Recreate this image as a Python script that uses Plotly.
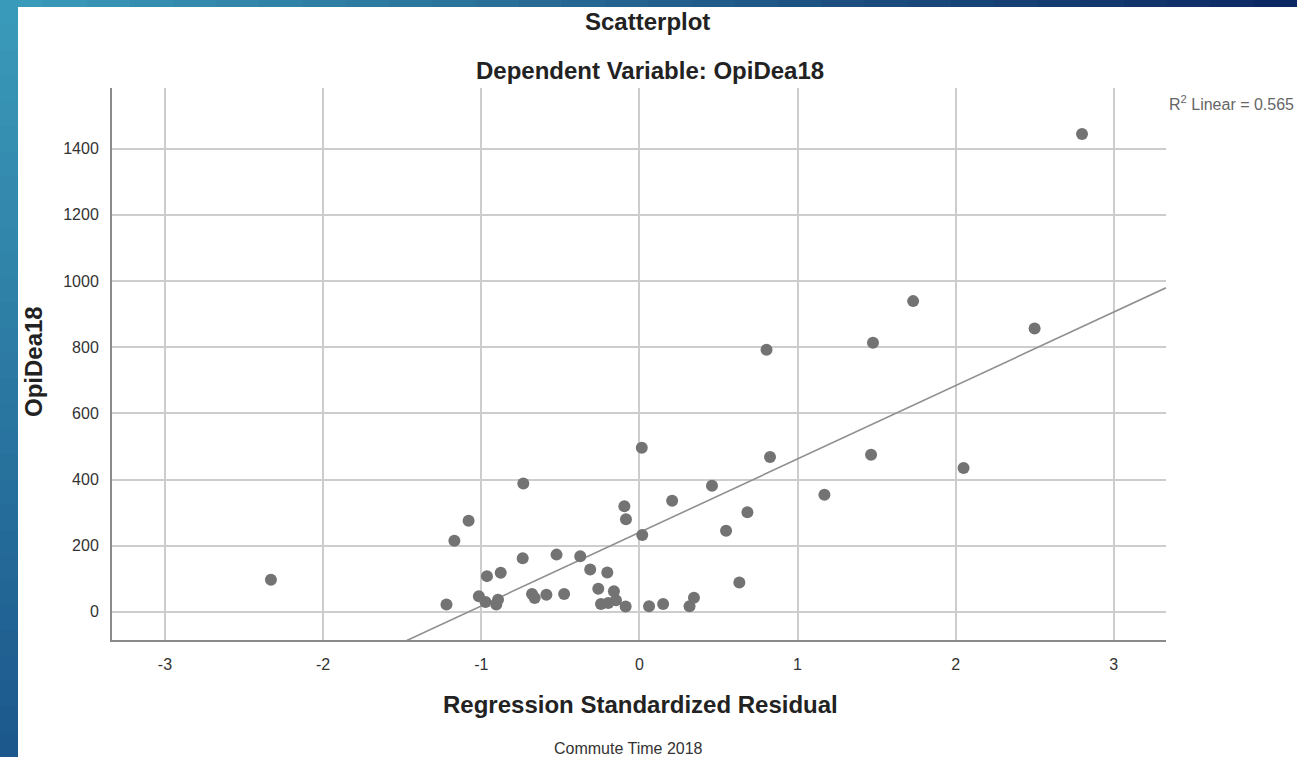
import plotly.graph_objects as go

# ---- data ----
residual = [-2.33, -1.22, -1.17, -1.08, -1.015, -0.973, -0.964, -0.905, -0.894, -0.877,
            -0.734, -0.738, -0.679, -0.662, -0.588, -0.524, -0.476, -0.374, -0.311, -0.260,
            -0.203, -0.243, -0.197, -0.161, -0.148, -0.087, -0.095, -0.085, 0.015, 0.018,
            0.061, 0.150, 0.207, 0.317, 0.345, 0.459, 0.548, 0.632, 0.683, 0.804,
            0.826, 1.17, 1.465, 1.477, 1.731, 2.05, 2.499, 2.799]
opidea18 = [97, 22, 215, 275, 47, 30, 108, 22, 37, 118,
            388, 162, 54, 42, 52, 173, 54, 168, 128, 70,
            119, 24, 27, 62, 35, 16, 319, 280, 496, 232,
            17, 24, 336, 17, 43, 381, 245, 89, 301, 792,
            468, 354, 475, 813, 939, 435, 856, 1444]
fit_slope = 222.0
fit_intercept = 240.0
r2_text = "R<sup>2</sup> Linear = 0.565"
x_ticks = [-3, -2, -1, 0, 1, 2, 3]
y_ticks = [0, 200, 400, 600, 800, 1000, 1200, 1400]
x_range = [-3.335, 3.33]
y_range = [-85, 1583]

FONT = "Arial, 'Liberation Sans', sans-serif"

fig = go.Figure()
fit_x = [x_range[0], x_range[1]]
fit_y = [fit_intercept + fit_slope * v for v in fit_x]
fig.add_trace(go.Scatter(x=fit_x, y=fit_y, mode="lines",
                         line=dict(color="#8f8f8f", width=1.6),
                         hoverinfo="skip", showlegend=False))
fig.add_trace(go.Scatter(x=residual, y=opidea18, mode="markers",
                         marker=dict(size=12, color="#737373", line=dict(width=0)),
                         showlegend=False))

W, H = 1297, 757
L, R, T, B = 112, 1166, 88, 640
pw, ph = R - L, B - T


def px(x):
    return (x - L) / pw


def py(y):
    return (B - y) / ph


shapes = []
# decorative gradient border (left and top strips)
def lerp(c1, c2, t):
    return "rgb(%d,%d,%d)" % tuple(round(a + (b - a) * t) for a, b in zip(c1, c2))

n = 30
left_top, left_bot = (58, 154, 185), (28, 88, 140)
for i in range(n):
    y0 = H * i / n
    y1 = H * (i + 1) / n + 1
    shapes.append(dict(type="rect", xref="paper", yref="paper",
                       x0=px(0), x1=px(18), y0=py(y1), y1=py(y0),
                       fillcolor=lerp(left_top, left_bot, i / (n - 1)),
                       line=dict(width=0), layer="below"))
top_left, top_right = (58, 154, 185), (12, 40, 98)
for i in range(n):
    x0 = W * i / n
    x1 = W * (i + 1) / n + 1
    shapes.append(dict(type="rect", xref="paper", yref="paper",
                       x0=px(x0), x1=px(x1), y0=py(7), y1=py(0),
                       fillcolor=lerp(top_left, top_right, i / (n - 1)),
                       line=dict(width=0), layer="below"))

annotations = [
    dict(text="<b>Scatterplot</b>", x=px(647), y=py(22), font=dict(size=24, color="#222")),
    dict(text="<b>Dependent Variable: OpiDea18</b>", x=px(650), y=py(70),
         font=dict(size=24, color="#222")),
    dict(text="<b>Regression Standardized Residual</b>", x=px(640), y=py(704),
         font=dict(size=24, color="#222")),
    dict(text="Commute Time 2018", x=px(628), y=py(748), font=dict(size=16, color="#333")),
    dict(text="<b>OpiDea18</b>", x=px(33), y=py(362), textangle=-90,
         font=dict(size=24, color="#222")),
    dict(text=r2_text, x=px(1167), y=py(103), xanchor="left",
         font=dict(size=16, color="#666")),
]
for a in annotations:
    a.update(xref="paper", yref="paper", showarrow=False)
    a.setdefault("xanchor", "center")
    a.setdefault("yanchor", "middle")

fig.update_layout(
    width=W, height=H,
    margin=dict(l=L, r=W - R, t=T, b=H - B, pad=0),
    paper_bgcolor="white", plot_bgcolor="white",
    font=dict(family=FONT, color="#333"),
    xaxis=dict(range=x_range, tickvals=x_ticks, ticktext=[str(v) for v in x_ticks],
               showgrid=True, gridcolor="#cdcdcd", gridwidth=1.5,
               zeroline=False, showline=True, linecolor="#8a8a8a", linewidth=2,
               ticks="", tickfont=dict(size=16, color="#333"), ticklabelstandoff=9),
    yaxis=dict(range=y_range, tickvals=y_ticks, ticktext=[str(v) for v in y_ticks],
               showgrid=True, gridcolor="#cdcdcd", gridwidth=1.5,
               zeroline=False, showline=True, linecolor="#8a8a8a", linewidth=2,
               ticks="", tickfont=dict(size=16, color="#333"), ticklabelstandoff=8),
    shapes=shapes, annotations=annotations, showlegend=False,
)

fig.write_html(
    "out.html",
    config={"displayModeBar": False},
    post_script="document.body.style.margin='0';document.body.style.overflow='hidden';",
)
